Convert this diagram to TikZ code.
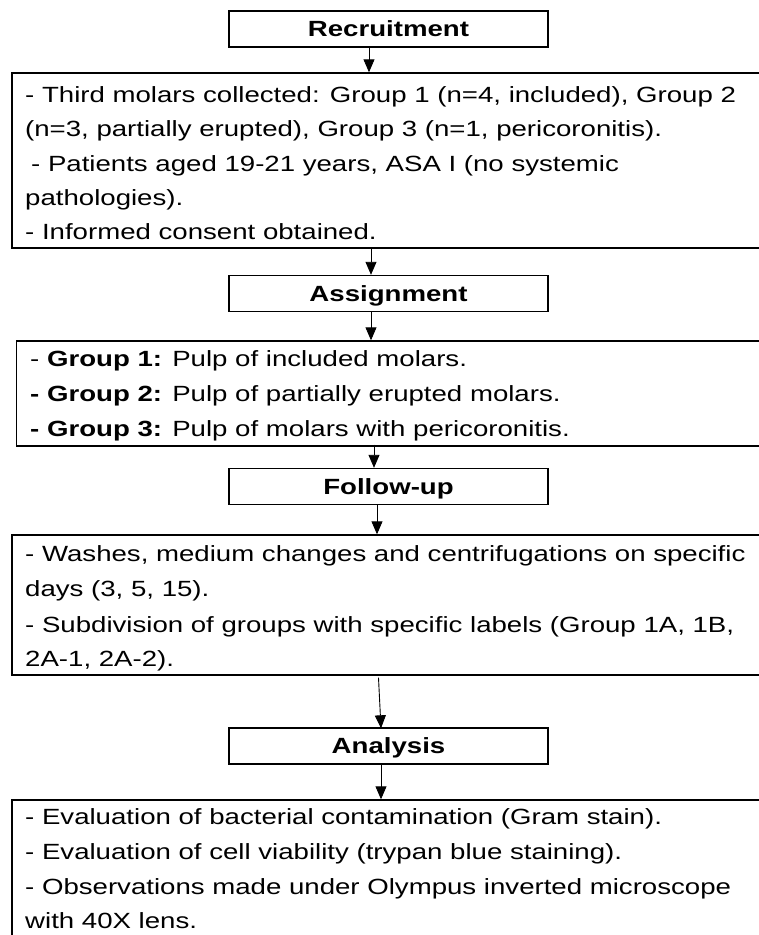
\documentclass[tikz,border=0pt]{standalone}
\usepackage{fontspec}
\setmainfont{Liberation Sans}[FakeStretch=1.255]
\usetikzlibrary{arrows.meta}
\begin{document}
\begin{tikzpicture}[x=1pt,y=-1pt,
  every node/.style={font=\fontsize{22}{34.5}\selectfont},
  headbox/.style={draw,line width=1.4pt,rectangle,minimum width=319pt,minimum height=36pt,inner sep=0pt,text height=15.5pt,text depth=0pt,font=\fontsize{22}{34.5}\selectfont\bfseries},
  bigbox/.style={draw,line width=1.4pt,rectangle,inner sep=0pt},
  txt/.style={anchor=base west,inner sep=0pt},
  arr/.style={-{Triangle[length=13pt,width=11pt]},line width=0.9pt}]
\fill[white] (0,0) rectangle (759,935);
\clip (0,0) rectangle (759,935);
% heading boxes
\node[headbox] (rec) at (388.5,29) {Recruitment};
\node[headbox] (assign) at (388.5,293.5) {Assignment};
\node[headbox] (follow) at (388.5,486.5) {Follow-up};
\node[headbox] (analysis) at (388.5,746) {Analysis};
% big boxes
\node[bigbox,minimum width=758pt,minimum height=175pt] (box1) at (391,160.5) {};
\node[bigbox,minimum width=753.5pt,minimum height=105pt] (box2) at (393.25,393.5) {};
\node[bigbox,minimum width=758pt,minimum height=140pt] (box3) at (391,605) {};
\node[bigbox,minimum width=758pt,minimum height=150pt] (box4) at (391,875) {};
% box1 text
\node[txt] (t11) at (25,102) {- Third molars collected: Group 1 (n=4, included), Group 2};
\node[txt] (t12) at (25,136.5) {(n=3, partially erupted), Group 3 (n=1, pericoronitis).};
\node[txt] (t13) at (31,171) {- Patients aged 19-21 years, ASA I (no systemic};
\node[txt] (t14) at (25,205) {pathologies).};
\node[txt] (t15) at (25,239.5) {- Informed consent obtained.};
% box2 text
\node[txt] (t21) at (30,366.7) {- \textbf{Group 1:} Pulp of included molars.};
\node[txt] (t22) at (30,401.7) {\textbf{- Group 2:} Pulp of partially erupted molars.};
\node[txt] (t23) at (30,436) {\textbf{- Group 3:} Pulp of molars with pericoronitis.};
% box3 text
\node[txt] (t31) at (25,561.7) {- Washes, medium changes and centrifugations on specific};
\node[txt] (t32) at (25,596.7) {days (3, 5, 15).};
\node[txt] (t33) at (25,632.7) {- Subdivision of groups with specific labels (Group 1A, 1B,};
\node[txt] (t34) at (25,666.7) {2A-1, 2A-2).};
% box4 text
\node[txt] (t41) at (25,824) {- Evaluation of bacterial contamination (Gram stain).};
\node[txt] (t42) at (25,859.3) {- Evaluation of cell viability (trypan blue staining).};
\node[txt] (t43) at (25,894) {- Observations made under Olympus inverted microscope};
\node[txt] (t44) at (25,928.3) {with 40X lens.};
% arrows
\draw[arr] ([xshift=-19.5pt]rec.south) -- ([xshift=-22pt]box1.north);
\draw[arr] ([xshift=-20pt]box1.south) -- ([xshift=-17.5pt]assign.north);
\draw[arr] ([xshift=-17.5pt]assign.south) -- ([xshift=-22.25pt]box2.north);
\draw[arr] ([xshift=-19.25pt,yshift=2pt]box2.south) -- ([xshift=-14.5pt]follow.north);
\draw[arr] ([xshift=-11.5pt]follow.south) -- ([xshift=-14pt]box3.north);
\draw[arr] ([xshift=-12.5pt,yshift=-2pt]box3.south) -- ([xshift=-7.5pt,yshift=-1pt]analysis.north);
\draw[arr] ([xshift=-7.5pt]analysis.south) -- ([xshift=-10pt]box4.north);
\end{tikzpicture}
\end{document}
